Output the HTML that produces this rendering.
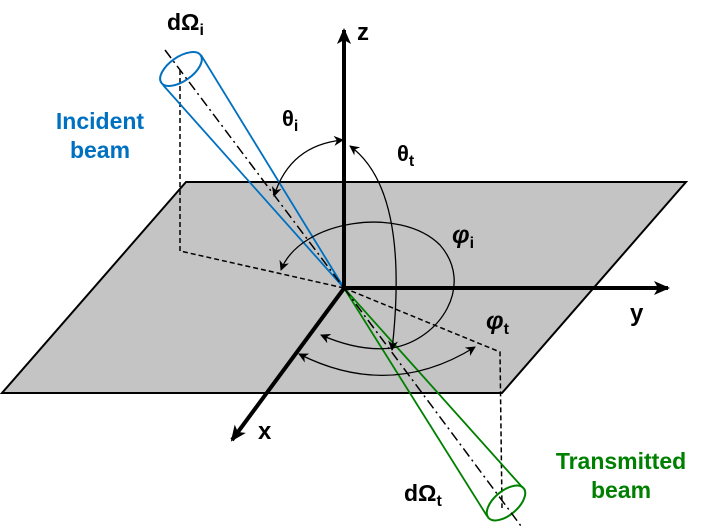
<!DOCTYPE html>
<html><head><meta charset="utf-8"><style>
html,body{margin:0;padding:0;background:#fff;}
svg{display:block;}
text{font-family:"Liberation Sans",sans-serif;font-weight:bold;}
</style></head><body>
<svg width="709" height="528" viewBox="0 0 709 528" xmlns="http://www.w3.org/2000/svg">
<defs>
<marker id="ah" markerWidth="10" markerHeight="10" refX="9" refY="5" orient="auto" markerUnits="userSpaceOnUse">
<path d="M0,0 L10,5 L0,10 L3,5 z" fill="#000"/></marker>
<marker id="ahs" markerWidth="10" markerHeight="10" refX="9" refY="5" orient="auto-start-reverse" markerUnits="userSpaceOnUse">
<path d="M0,0 L10,5 L0,10 L3,5 z" fill="#000"/></marker>
<marker id="big" markerWidth="16" markerHeight="14" refX="14" refY="7" orient="auto" markerUnits="userSpaceOnUse">
<path d="M0,0 L16,7 L0,14 L4,7 z" fill="#000"/></marker>
</defs>
<polygon points="186,182 686,182 502,393 2,393" fill="#c4c4c4" stroke="#000" stroke-width="2"/>
<polyline points="180,70 180,251 344,288" fill="none" stroke="#000" stroke-width="1.5" stroke-dasharray="5,3"/>
<polyline points="344,288 500,352 502,508" fill="none" stroke="#000" stroke-width="1.5" stroke-dasharray="5,3"/>
<!-- incident cone -->
<ellipse cx="181" cy="69" rx="24" ry="12" transform="rotate(-35 181 69)" fill="none" stroke="#0070c0" stroke-width="2"/>
<line x1="163" y1="85" x2="344" y2="288" stroke="#0070c0" stroke-width="1.8"/>
<line x1="201" y1="55" x2="344" y2="288" stroke="#0070c0" stroke-width="1.8"/>
<line x1="165" y1="50" x2="344" y2="288" stroke="#000" stroke-width="1.5" stroke-dasharray="10,4,2,4"/>
<!-- transmitted cone -->
<line x1="344" y1="288" x2="487" y2="516" stroke="#008000" stroke-width="1.8"/>
<line x1="344" y1="288" x2="523" y2="488" stroke="#008000" stroke-width="1.8"/>
<ellipse cx="506" cy="503" rx="23" ry="12" transform="rotate(-40 506 503)" fill="none" stroke="#008000" stroke-width="2"/>
<line x1="344" y1="288" x2="521" y2="526" stroke="#000" stroke-width="1.5" stroke-dasharray="10,4,2,4"/>
<!-- axes -->
<line x1="344" y1="290" x2="344" y2="30" stroke="#000" stroke-width="4" marker-end="url(#big)"/>
<line x1="342" y1="288" x2="668" y2="288" stroke="#000" stroke-width="4" marker-end="url(#big)"/>
<line x1="345" y1="287" x2="232" y2="440" stroke="#000" stroke-width="4" marker-end="url(#big)"/>
<!-- arcs -->
<path d="M274,196 Q290,145 343,140" fill="none" stroke="#000" stroke-width="1.3" marker-start="url(#ahs)" marker-end="url(#ah)"/>
<path d="M350,146 Q410,190 392,350" fill="none" stroke="#000" stroke-width="1.3" marker-start="url(#ahs)" marker-end="url(#ah)"/>
<path d="M281,270 C300,220 400,205 440,245 C475,285 440,340 392,348" fill="none" stroke="#000" stroke-width="1.3" marker-start="url(#ahs)"/>
<path d="M321,335 Q360,352 392,348" fill="none" stroke="#000" stroke-width="1.3" marker-start="url(#ahs)"/>
<path d="M299,354 Q390,400 475,347" fill="none" stroke="#000" stroke-width="1.3" marker-start="url(#ahs)" marker-end="url(#ah)"/>
<!-- labels -->
<text x="167" y="30" font-size="23">dΩ<tspan font-size="16" dy="5">i</tspan></text>
<text x="357" y="40" font-size="24">z</text>
<text x="630" y="321" font-size="24">y</text>
<text x="258" y="439" font-size="24">x</text>
<text x="282" y="126" font-size="22">θ<tspan font-size="16" dy="5">i</tspan></text>
<text x="397" y="161" font-size="22">θ<tspan font-size="16" dy="5">t</tspan></text>
<text x="452" y="243" font-size="25" font-style="italic" font-family="Liberation Serif,serif">φ<tspan font-size="16" dy="5" font-style="normal" font-family="Liberation Sans,sans-serif">i</tspan></text>
<text x="486" y="329" font-size="25" font-style="italic" font-family="Liberation Serif,serif">φ<tspan font-size="16" dy="5" font-style="normal" font-family="Liberation Sans,sans-serif">t</tspan></text>
<text x="100" y="129" font-size="23" fill="#0070c0" text-anchor="middle">Incident</text>
<text x="100" y="158" font-size="23" fill="#0070c0" text-anchor="middle">beam</text>
<text x="621" y="469" font-size="23" fill="#008000" text-anchor="middle">Transmitted</text>
<text x="621" y="498" font-size="23" fill="#008000" text-anchor="middle">beam</text>
<text x="404" y="501" font-size="23">dΩ<tspan font-size="16" dy="5">t</tspan></text>
</svg>
</body></html>
